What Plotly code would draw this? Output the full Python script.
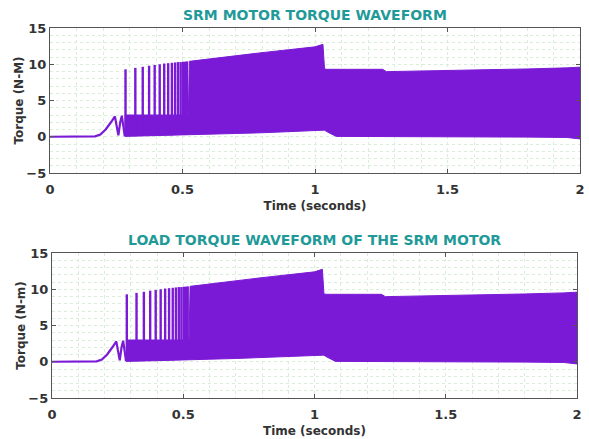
import plotly.graph_objects as go

# ---------------- data ----------------
# start-up transient (single line)
t_init = [0.0, 0.10, 0.17, 0.19, 0.21, 0.23, 0.245, 0.252, 0.258, 0.265, 0.271, 0.277, 0.282]
v_init = [0.0, 0.0, 0.05, 0.3, 1.0, 2.0, 2.8, 1.4, 0.2, 2.0, 2.9, 1.4, 0.1]

# envelope of the dense oscillation (upper / lower edge)
t_env = [0.282, 0.40, 0.522, 0.526, 0.60, 0.70, 0.80, 0.90, 1.00, 1.030, 1.036,
         1.045, 1.08, 1.20, 1.255, 1.27, 1.40, 1.60, 1.80, 1.95, 2.00]
upper = [3.0, 3.0, 3.0, 10.4, 10.75, 11.15, 11.6, 12.0, 12.4, 12.75, 9.35,
         9.3, 9.3, 9.3, 9.3, 8.98, 9.05, 9.2, 9.35, 9.5, 9.6]
lower = [0.05, 0.15, 0.25, 0.25, 0.35, 0.45, 0.55, 0.7, 0.85, 0.9, 0.9,
         0.7, 0.05, 0.0, 0.0, 0.0, 0.0, 0.0, -0.05, -0.1, -0.3]

# isolated torque spikes before the waveform becomes dense
spike_t = [0.285, 0.322, 0.350, 0.374, 0.395, 0.414, 0.431, 0.446, 0.460,
           0.472, 0.483, 0.493, 0.502, 0.510, 0.517]
spike_v = [9.3, 9.5, 9.65, 9.8, 9.9, 10.0, 10.1, 10.15, 10.2,
           10.25, 10.3, 10.3, 10.35, 10.35, 10.4]
spike_base = [0.1, 0.15, 0.15, 0.15, 0.2, 0.2, 0.2, 0.2, 0.2,
              0.25, 0.25, 0.25, 0.25, 0.25, 0.25]

x_ticks = [0, 0.5, 1, 1.5, 2]
x_tick_text = ["0", "0.5", "1", "1.5", "2"]
y_ticks = [-5, 0, 5, 10, 15]

titles = ["SRM MOTOR TORQUE WAVEFORM", "LOAD TORQUE WAVEFORM OF THE SRM MOTOR"]
y_titles = ["Torque (N-M)", "Torque (N-m)"]
x_title = "Time (seconds)"

# ---------------- styling ----------------
W, H = 589, 439
PURPLE = "#7a1ad6"
TEAL = "#1f9a98"
TXT = "#333333"
FONT = "DejaVu Sans"
GRID = "#d9eed9"

# pixel boxes (left, right, top, bottom)
boxes = [(50, 580, 28, 173), (52, 577, 253, 398)]

fig = go.Figure()

for i, (l, r, tp, bt) in enumerate(boxes):
    xa = "x" if i == 0 else "x2"
    ya = "y" if i == 0 else "y2"
    # dense band as filled envelope
    poly_x = t_env + t_env[::-1]
    poly_y = upper + lower[::-1]
    fig.add_trace(go.Scatter(x=poly_x, y=poly_y, fill="toself", fillcolor=PURPLE,
                             mode="lines", line=dict(color=PURPLE, width=1),
                             xaxis=xa, yaxis=ya, showlegend=False, hoverinfo="skip"))
    # spikes
    sx, sy = [], []
    for t, v, b in zip(spike_t, spike_v, spike_base):
        sx += [t, t, None]
        sy += [b, v, None]
    fig.add_trace(go.Scatter(x=sx, y=sy, mode="lines", line=dict(color=PURPLE, width=2.4),
                             xaxis=xa, yaxis=ya, showlegend=False, hoverinfo="skip"))
    # start-up line
    fig.add_trace(go.Scatter(x=t_init, y=v_init, mode="lines", line=dict(color=PURPLE, width=2.2),
                             xaxis=xa, yaxis=ya, showlegend=False, hoverinfo="skip"))

    xdom = [l / W, r / W]
    ydom = [1 - bt / H, 1 - tp / H]
    axis_common = dict(showline=True, linecolor="#555555", linewidth=1.3, mirror="ticks",
                       ticks="inside", ticklen=4, tickcolor="#555555", automargin=False,
                       zeroline=False, showgrid=True, gridcolor=GRID, griddash="dot",
                       gridwidth=1,
                       tickfont=dict(family=FONT, size=13, color=TXT, weight="bold"))
    xkey = "xaxis" if i == 0 else "xaxis2"
    ykey = "yaxis" if i == 0 else "yaxis2"
    fig.layout[xkey] = dict(domain=xdom, anchor=ya, range=[0, 2], tickvals=x_ticks,
                            ticktext=x_tick_text, ticklabelstandoff=4,
                            minor=dict(dtick=0.1, showgrid=True, gridcolor=GRID, griddash="dot"),
                            title=dict(text=x_title, standoff=5,
                                       font=dict(family=FONT, size=12, color=TXT, weight="bold")),
                            **axis_common)
    fig.layout[ykey] = dict(domain=ydom, anchor=xa, range=[-5, 15], tickvals=y_ticks,
                            minor=dict(dtick=1, showgrid=True, gridcolor=GRID, griddash="dot"),
                            ticklabelstandoff=0,
                            title=dict(text=y_titles[i], standoff=0,
                                       font=dict(family=FONT, size=12, color=TXT, weight="bold")),
                            **axis_common)
    fig.add_annotation(text=titles[i], xref="paper", yref="paper",
                       x=(l + r) / 2 / W, y=1 - (tp - 13) / H, xanchor="center", yanchor="middle",
                       showarrow=False,
                       font=dict(family=FONT, size=14, color=TEAL, weight="bold"))

fig.update_layout(width=W, height=H, margin=dict(l=0, r=0, t=0, b=0),
                  paper_bgcolor="white", plot_bgcolor="white")

fig.write_html("out.html")
